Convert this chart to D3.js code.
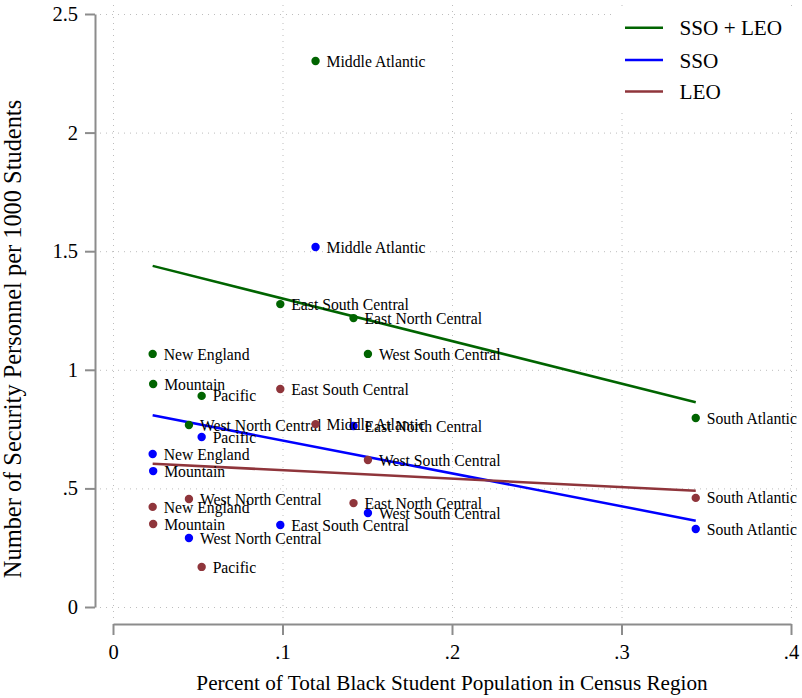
<!DOCTYPE html>
<html>
<head>
<meta charset="utf-8">
<script src="https://cdn.jsdelivr.net/npm/d3@7"></script>
<style>
  html, body { margin: 0; padding: 0; background: #fff; }
  svg { display: block; }
  text { font-family: "Liberation Serif", "Times New Roman", serif; fill: #000; }
</style>
</head>
<body>
<script>
// ---- Data ----
const regions = ["New England", "Middle Atlantic", "East North Central", "West North Central",
  "South Atlantic", "East South Central", "West South Central", "Mountain", "Pacific"];
const pctBlack = [0.0234, 0.1195, 0.1419, 0.0448, 0.3438, 0.0987, 0.1504, 0.0237, 0.0523];
const ssoLeo = [1.067, 2.302, 1.218, 0.767, 0.797, 1.277, 1.067, 0.940, 0.890];
const sso    = [0.645, 1.518, 0.763, 0.291, 0.329, 0.346, 0.396, 0.573, 0.717];
const leo    = [0.422, 0.771, 0.438, 0.455, 0.460, 0.919, 0.620, 0.350, 0.169];

// fitted-line endpoints (x at min/max of data)
const fitX      = [0.0234, 0.3438];
const fitSsoLeo = [1.438, 0.863];
const fitSso    = [0.808, 0.364];
const fitLeo    = [0.604, 0.490];

const seriesNames = ["SSO + LEO", "SSO", "LEO"];
const seriesColors = ["#006400", "#0000ff", "#8f353b"];

const xTicks = [0, 0.1, 0.2, 0.3, 0.4];
const xTickLabels = ["0", ".1", ".2", ".3", ".4"];
const yTicks = [0, 0.5, 1, 1.5, 2, 2.5];
const yTickLabels = ["0", ".5", "1", "1.5", "2", "2.5"];

const xTitle = "Percent of Total Black Student Population in Census Region";
const yTitle = "Number of Security Personnel per 1000 Students";

// ---- Layout ----
const W = 802, H = 698;
const x = d3.scaleLinear().domain([0, 0.4]).range([113, 791]);
const y = d3.scaleLinear().domain([0, 2.5]).range([607, 14]);

const svg = d3.select("body").append("svg").attr("width", W).attr("height", H);

// grid
const grid = svg.append("g").attr("stroke", "#bdbdbd").attr("stroke-width", 1)
  .attr("stroke-dasharray", "1,5");
grid.selectAll("line.h").data(yTicks).enter().append("line")
  .attr("x1", 100).attr("x2", W).attr("y1", d => y(d) + 0.5).attr("y2", d => y(d) + 0.5);
grid.selectAll("line.v").data(xTicks).enter().append("line")
  .attr("y1", 5).attr("y2", 619).attr("x1", d => x(d) + 0.5).attr("x2", d => x(d) + 0.5);

// axes
const axisColor = "#8c8c8c";
const yAxis = svg.append("g").attr("transform", "translate(95,0)")
  .call(d3.axisLeft(y).tickValues(yTicks).tickFormat((d, i) => yTickLabels[i])
    .tickSize(10).tickSizeOuter(0).tickPadding(7));
const xAxis = svg.append("g").attr("transform", "translate(0,624)")
  .call(d3.axisBottom(x).tickValues(xTicks).tickFormat((d, i) => xTickLabels[i])
    .tickSize(11).tickSizeOuter(0).tickPadding(9));
[yAxis, xAxis].forEach(a => {
  a.select(".domain").attr("stroke", axisColor).attr("stroke-width", 2);
  a.selectAll(".tick line").attr("stroke", axisColor).attr("stroke-width", 2);
  a.selectAll(".tick text").attr("font-size", "20.5px")
    .attr("font-family", "'Liberation Serif', 'Times New Roman', serif").attr("fill", "#000");
});

// axis titles
svg.append("text").attr("x", 452).attr("y", 690).attr("text-anchor", "middle")
  .attr("font-size", "21.2px").text(xTitle);
svg.append("text").attr("transform", "translate(21,339) rotate(-90)")
  .attr("text-anchor", "middle").attr("font-size", "24.4px").text(yTitle);

// fit lines
const fits = [fitSsoLeo, fitSso, fitLeo];
fits.forEach((f, k) => {
  svg.append("line")
    .attr("x1", x(fitX[0])).attr("y1", y(f[0]))
    .attr("x2", x(fitX[1])).attr("y2", y(f[1]))
    .attr("stroke", seriesColors[k]).attr("stroke-width", 2.5);
});

// points + labels
const series = [ssoLeo, sso, leo];
series.forEach((vals, k) => {
  const g = svg.append("g");
  const pts = regions.map((r, i) => ({ r, x: pctBlack[i], v: vals[i] }));
  g.selectAll("circle").data(pts).enter().append("circle")
    .attr("cx", d => x(d.x)).attr("cy", d => y(d.v)).attr("r", 4.2)
    .attr("fill", seriesColors[k]);
  g.selectAll("text").data(pts).enter().append("text")
    .attr("x", d => x(d.x) + 11).attr("y", d => y(d.v) + 5.6)
    .attr("font-size", "15.7px").text(d => d.r);
});

// legend
const lg = svg.append("g");
lg.append("rect").attr("x", 613).attr("y", 6).attr("width", 187).attr("height", 107).attr("fill", "#fff");
const legendY = [27.7, 60, 91.5];
seriesNames.forEach((n, i) => {
  lg.append("line").attr("x1", 625).attr("x2", 663).attr("y1", legendY[i]).attr("y2", legendY[i])
    .attr("stroke", seriesColors[i]).attr("stroke-width", 2.5);
  lg.append("text").attr("x", 679.5).attr("y", legendY[i] + 7.5).attr("font-size", "21.2px").text(n);
});
</script>
</body>
</html>
